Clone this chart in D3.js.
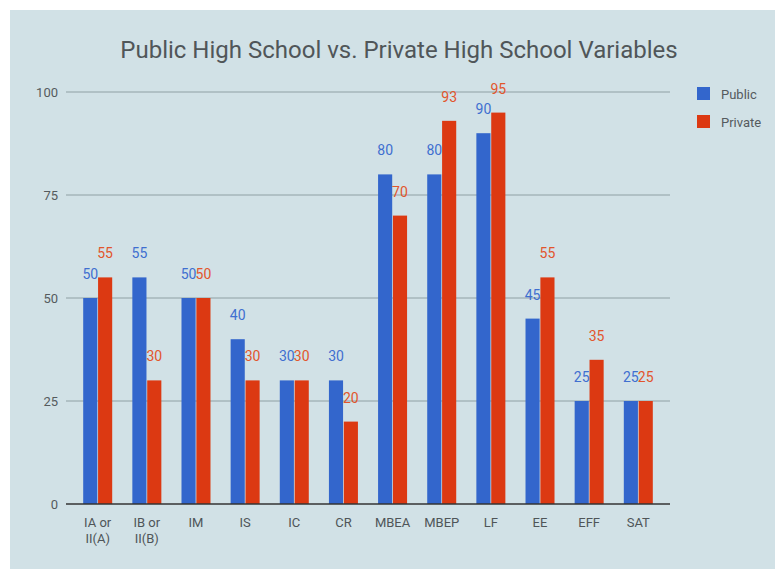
<!DOCTYPE html>
<html>
<head>
<meta charset="utf-8">
<script src="https://cdn.jsdelivr.net/npm/d3@7"></script>
<style>
    body { margin: 0; background: #ffffff; }
    svg { display: block; }
    text { font-family: "Roboto", sans-serif; }
</style>
</head>
<body>
<svg id="chart" width="775" height="569"></svg>
<script>
// chart data
var categories = [["IA or", "II(A)"], ["IB or", "II(B)"], ["IM"], ["IS"], ["IC"], ["CR"],
    ["MBEA"], ["MBEP"], ["LF"], ["EE"], ["EFF"], ["SAT"]];
var seriesNames = ["Public", "Private"];
var publicValues = [50, 55, 50, 40, 30, 30, 80, 80, 90, 45, 25, 25];
var privateValues = [55, 30, 50, 30, 30, 20, 70, 93, 95, 55, 35, 25];
var yTicks = [0, 25, 50, 75, 100];

var barColors = ["#3366cc", "#dc3912"],
    labelColors = ["#3f6fd0", "#e2552c"];

var svg = d3.select("#chart");

// light panel behind everything
svg.append("rect")
    .attr("x", 10).attr("y", 10)
    .attr("width", 765).attr("height", 559)
    .attr("fill", "#d1e1e6");

var plotLeft = 66, plotRight = 670, plotTop = 92, plotBottom = 504;

var x0 = d3.scaleBand()
    .domain(d3.range(categories.length))
    .range([plotLeft, plotRight])
    .paddingInner(0.41)
    .paddingOuter(0.35);

var x1 = d3.scaleBand()
    .domain([0, 1])
    .range([0, x0.bandwidth()])
    .paddingInner(0.05);

var y = d3.scaleLinear().domain([0, 100]).range([plotBottom, plotTop]);

// gridlines + y labels
svg.append("g")
    .selectAll("line")
    .data(yTicks.filter(function (d) { return d > 0; }))
    .join("line")
    .attr("x1", plotLeft).attr("x2", plotRight)
    .attr("y1", function (d) { return y(d); })
    .attr("y2", function (d) { return y(d); })
    .attr("stroke", "#8fa0a4")
    .attr("stroke-width", 1);

svg.append("g")
    .selectAll("text")
    .data(yTicks)
    .join("text")
    .attr("x", 58)
    .attr("y", function (d) { return y(d); })
    .attr("dy", "0.35em")
    .attr("text-anchor", "end")
    .attr("fill", "#555b5e")
    .style("font-size", "13px")
    .text(function (d) { return d; });

// bars
var series = [publicValues, privateValues];
var groups = svg.append("g")
    .selectAll("g")
    .data(categories)
    .join("g")
    .attr("transform", function (d, i) { return "translate(" + x0(i) + ",0)"; });

groups.each(function (cat, i) {
    var g = d3.select(this);
    series.forEach(function (vals, s) {
        g.append("rect")
            .attr("x", x1(s))
            .attr("y", y(vals[i]))
            .attr("width", x1.bandwidth())
            .attr("height", plotBottom - y(vals[i]))
            .attr("fill", barColors[s]);
        g.append("text")
            .attr("x", x1(s) + x1.bandwidth() / 2)
            .attr("y", y(vals[i]) - 19)
            .attr("text-anchor", "middle")
            .attr("fill", labelColors[s])
            .style("font-size", "14px")
            .text(vals[i]);
    });
    // category label (one or two lines)
    var t = g.append("text")
        .attr("text-anchor", "middle")
        .attr("fill", "#4f5558")
        .style("font-size", "13px");
    cat.forEach(function (line, k) {
        t.append("tspan")
            .attr("x", x0.bandwidth() / 2)
            .attr("y", 527 + k * 16)
            .text(line);
    });
});

// baseline
svg.append("line")
    .attr("x1", plotLeft).attr("x2", plotRight)
    .attr("y1", plotBottom).attr("y2", plotBottom)
    .attr("stroke", "#333")
    .attr("stroke-width", 1.5);

// title
svg.append("text")
    .attr("x", 399)
    .attr("y", 58)
    .attr("text-anchor", "middle")
    .attr("fill", "#505659")
    .style("font-size", "24px")
    .text("Public High School vs. Private High School Variables");

// legend
var legend = svg.append("g")
    .selectAll("g")
    .data(seriesNames)
    .join("g")
    .attr("transform", function (d, i) { return "translate(697," + (87 + i * 28) + ")"; });

legend.append("rect")
    .attr("width", 13).attr("height", 13)
    .attr("fill", function (d, i) { return barColors[i]; });

legend.append("text")
    .attr("x", 24).attr("y", 7)
    .attr("dy", "0.35em")
    .attr("fill", "#555b5e")
    .style("font-size", "13px")
    .text(function (d) { return d; });
</script>
</body>
</html>
